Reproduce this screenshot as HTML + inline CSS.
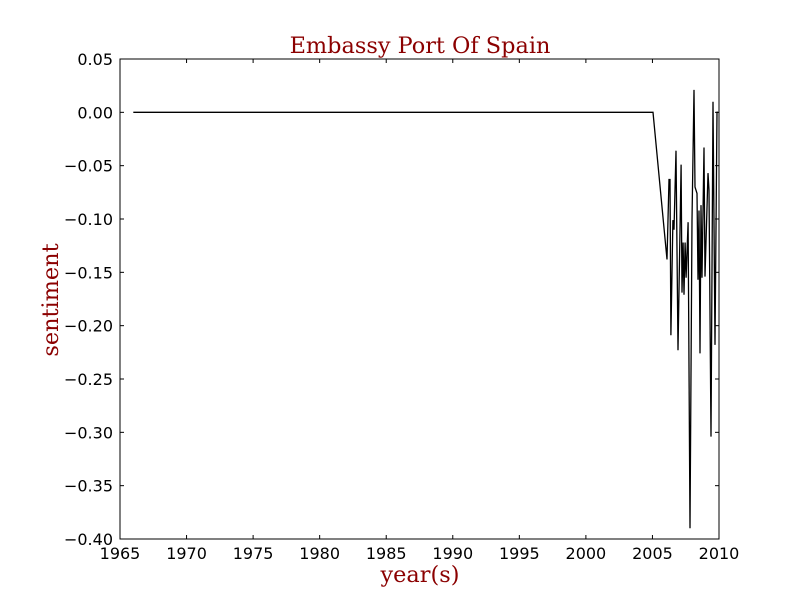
<!DOCTYPE html>
<html><head><meta charset="utf-8"><style>
body{margin:0;background:#fff;}
svg text{font-family:"DejaVu Sans","Liberation Sans",sans-serif;}
.serif{font-family:"DejaVu Serif","Liberation Serif",serif;fill:#8b0000;}
</style></head><body>
<svg id="chart" width="800" height="600" xmlns="http://www.w3.org/2000/svg">
<rect width="800" height="600" fill="#fff"/>
<text class="serif" x="420" y="53" font-size="22.4" text-anchor="middle">Embassy Port Of Spain</text>
<text class="serif" x="420" y="582" font-size="22.4" text-anchor="middle">year(s)</text>
<text class="serif" x="58" y="300" font-size="22.4" text-anchor="middle" transform="rotate(-90 58 300)">sentiment</text>
<g id="ticks"></g>
<path id="line" fill="none" stroke="#000" stroke-width="1.3"/>
<rect x="120" y="59" width="599" height="480" fill="none" stroke="#000" stroke-width="1"/>
</svg>
<script>
const years=[1966.0,2005.04,2006.09,2006.24,2006.32,2006.39,2006.54,2006.62,2006.77,2006.92,2007.15,2007.22,2007.30,2007.37,2007.45,2007.53,2007.68,2007.82,2007.97,2008.12,2008.20,2008.35,2008.42,2008.50,2008.57,2008.65,2008.72,2008.87,2008.95,2009.17,2009.25,2009.40,2009.55,2009.70,2009.85,2009.93];
const values=[0,0,-0.138,-0.063,-0.063,-0.209,-0.101,-0.110,-0.036,-0.223,-0.049,-0.169,-0.122,-0.171,-0.122,-0.155,-0.103,-0.390,-0.101,0.021,-0.070,-0.076,-0.157,-0.092,-0.226,-0.087,-0.155,-0.033,-0.154,-0.057,-0.073,-0.304,0.010,-0.218,0.000,0.000];
const xTicks=[1965,1970,1975,1980,1985,1990,1995,2000,2005,2010];
const yTicks=[0.05,0.00,-0.05,-0.10,-0.15,-0.20,-0.25,-0.30,-0.35,-0.40];
const X0=120,X1=719,Y0=59,Y1=539;
const xs=v=>X0+(v-1965)/45*(X1-X0);
const ys=v=>Y0+(0.05-v)/0.45*(Y1-Y0);
const NS="http://www.w3.org/2000/svg";
const g=document.getElementById('ticks');
function add(tag,attrs,txt){const e=document.createElementNS(NS,tag);for(const k in attrs)e.setAttribute(k,attrs[k]);if(txt!==undefined)e.textContent=txt;g.appendChild(e);return e;}
xTicks.forEach(t=>{const x=xs(t);
 const l1=add('line',{x1:x,x2:x,y1:Y1,y2:Y1-4,stroke:'#000'});
 
 
 const l2=add('line',{x1:x,x2:x,y1:Y0,y2:Y0+4,stroke:'#000'});
 
 
 const tx=add('text',{x:x,y:559,'font-size':16,'text-anchor':'middle'},String(t));
 
 
});
yTicks.forEach(t=>{const y=ys(t);
 const l1=add('line',{x1:X0,x2:X0+4,y1:y,y2:y,stroke:'#000'});
 
 
 const l2=add('line',{x1:X1,x2:X1-4,y1:y,y2:y,stroke:'#000'});
 
 
 const s=(t<0?'\u2212':'')+Math.abs(t).toFixed(2);
 const tx=add('text',{x:113,y:y+6,'font-size':16,'text-anchor':'end'},s);
 
 
});
document.getElementById('line').setAttribute('d',years.map((y,i)=>(i?'L':'M')+xs(y).toFixed(1)+' '+ys(values[i]).toFixed(1)).join(' '));
</script>
</body></html>
